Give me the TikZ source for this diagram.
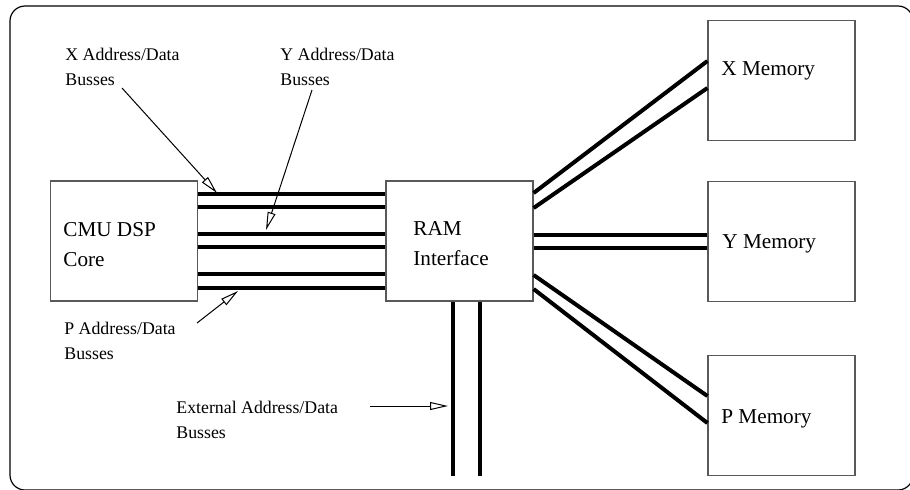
\documentclass[tikz,border=0pt]{standalone}
\usepackage{fontspec}
\setmainfont{Liberation Serif}
\usetikzlibrary{arrows.meta}

\tikzset{
  unitbox/.style={draw=black!65, line width=0.6pt, minimum width=73.5pt, minimum height=60pt, inner sep=0pt},
  boxtext/.style={anchor=base west, align=left, inner sep=0pt, font=\fontsize{10.6}{15}\selectfont},
  note/.style={anchor=base west, align=left, inner sep=0pt, font=\fontsize{8.9}{12.5}\selectfont},
  bus/.style={line width=2pt},
  pointer/.style={line width=0.5pt, -{Triangle[open, length=9pt, width=4pt]}},
}

\begin{document}
\begin{tikzpicture}[x=0.5pt, y=-0.5pt]
  \useasboundingbox (0,0) rectangle (910,489);
  % Outer frame, cut off at the right and bottom
  \begin{scope}
    \clip (0,0) rectangle (910,489);
    \draw[line width=0.6pt, rounded corners=7.5pt] (10,6) rectangle (913,490);
  \end{scope}

  % Units
  \node[unitbox] (core) at (124,241) {};
  \node[unitbox] (ram) at (459.5,241) {};
  \node[unitbox] (xmem) at (781.5,80.5) {};
  \node[unitbox] (ymem) at (781.5,241.5) {};
  \node[unitbox] (pmem) at (781.5,415.5) {};

  % (base of a two-line node is the base of its last line)
  \node[boxtext] (coretxt) at (63,266) {CMU DSP\\Core};
  \node[boxtext] (ramtxt) at (413,265.5) {RAM\\Interface};
  \node[boxtext] (xmemtxt) at (721,75) {X Memory};
  \node[boxtext] (ymemtxt) at (722,248) {Y Memory};
  \node[boxtext] (pmemtxt) at (721,423) {P Memory};

  % Busses between core and RAM interface
  \foreach \y in {194,207,234,247,274,288}
    \draw[bus] (core.east |- 0,\y) -- (ram.west |- 0,\y);

  % Busses to the memories
  \draw[bus] (ram.east |- 0,193) -- (xmem.west |- 0,61);
  \draw[bus] (ram.east |- 0,208) -- (xmem.west |- 0,88);
  \foreach \y in {235,248}
    \draw[bus] (ram.east |- 0,\y) -- (ymem.west |- 0,\y);
  \draw[bus] (ram.east |- 0,275) -- (pmem.west |- 0,396);
  \draw[bus] (ram.east |- 0,289) -- (pmem.west |- 0,423);

  % External busses
  \coordinate (extA) at (453,476);
  \coordinate (extB) at (480,476);
  \draw[bus] (ram.south -| extA) -- (extA);
  \draw[bus] (ram.south -| extB) -- (extB);

  % Labels
  \node[note] (xlab) at (65,85) {X Address/Data\\Busses};
  \node[note] (ylab) at (280,85) {Y Address/Data\\Busses};
  \node[note] (plab) at (64,359) {P Address/Data\\Busses};
  \node[note] (extlab) at (176,438) {External Address/Data\\Busses};

  \coordinate (xtail) at (122,88);
  \coordinate (xtip) at (217,193);
  \coordinate (ytail) at (312,90);
  \coordinate (ytip) at (266,230);
  \coordinate (ptail) at (197,323);
  \coordinate (ptip) at (238,291);
  \coordinate (exttail) at (370,406);
  \coordinate (exttip) at (448,406);
  \draw[pointer] (xtail) -- (xtip);
  \draw[pointer] (ytail) -- (ytip);
  \draw[pointer] (ptail) -- (ptip);
  \draw[pointer] (exttail) -- (exttip);
\end{tikzpicture}
\end{document}
